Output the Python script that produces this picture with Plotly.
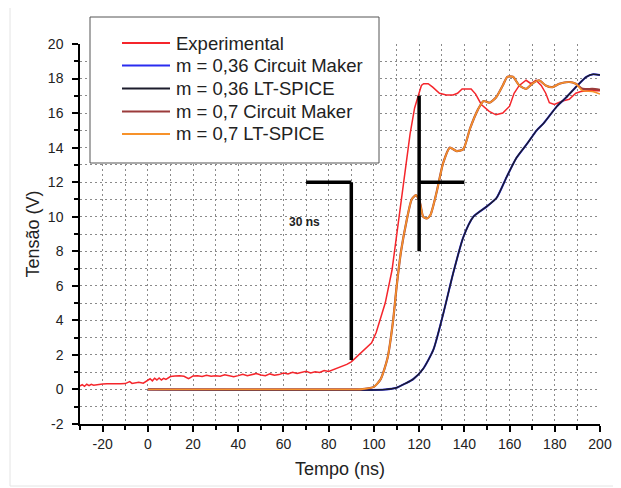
import plotly.graph_objects as go

# ---------------- data ----------------
exp_t = [-30, -29, -28, -27, -26, -25, -24, -22, -20, -18, -16, -14, -12, -10, -8, -7, -6, -4, -2,
         0, 1, 2, 3, 4, 5, 6, 7, 8, 10, 12, 14, 16, 18, 19, 20, 22, 24, 26, 28, 30, 32, 34, 36, 38,
         40, 42, 44, 46, 48, 50, 52, 54, 56, 58, 60, 62, 64, 66, 68, 70, 72, 74, 76, 78, 80, 82, 84,
         86, 88, 90, 92, 94, 96, 97, 98, 99, 101, 103, 105, 108, 110, 112, 114, 116, 118, 120, 121,
         122, 124, 126, 129, 132, 135, 137, 139, 143, 145, 147.5, 151, 154, 157, 160, 162, 164.3,
         167.3, 169.5, 171.7, 174, 176, 177.6, 179.8, 183.4, 186.4, 189.3, 191.5, 195, 200]
exp_v = [0.20, 0.28, 0.18, 0.30, 0.22, 0.30, 0.25, 0.30, 0.32, 0.33, 0.32, 0.33, 0.33, 0.34, 0.45, 0.35,
         0.36, 0.42, 0.36,
         0.55, 0.62, 0.50, 0.65, 0.55, 0.66, 0.55, 0.64, 0.58, 0.75, 0.78, 0.80, 0.76, 0.62, 0.70, 0.78,
         0.80, 0.75, 0.82, 0.76, 0.80, 0.77, 0.85, 0.78, 0.74,
         0.80, 0.88, 0.80, 0.85, 0.92, 0.84, 0.80, 0.90, 0.82, 0.86, 0.95, 0.90, 1.00, 0.92, 0.98, 1.05,
         0.96, 1.02, 0.98, 1.10, 1.04, 1.15, 1.22,
         1.35, 1.45, 1.60, 1.85, 2.05, 2.30, 2.45, 2.55, 2.70, 3.30, 4.20, 5.00, 6.90, 8.80, 10.8, 12.9,
         14.8, 16.3, 17.2, 17.6,
         17.7, 17.7, 17.5, 17.15, 17.05, 17.05, 17.15, 17.4, 17.4, 17.1, 16.5, 16.1, 15.9, 16.0, 16.4,
         17.15, 17.6,
         17.9, 17.7, 17.9, 17.6, 17.15, 16.6, 16.5, 16.7, 16.8, 17.15, 17.25, 17.3, 17.3]

m036_t = [0, 105, 110, 114, 117.4, 121.8, 126.3, 130.7, 135, 139.5, 144, 150, 154.3, 158.7, 163,
          167.6, 172, 175, 181, 185, 190, 194, 197, 200]
m036_lt_v = [0, 0.0, 0.1, 0.35, 0.6, 1.2, 2.3, 4.4, 6.7, 8.8, 10.0, 10.6, 11.1, 12.3, 13.4,
             14.2, 15.0, 15.4, 16.4, 16.9, 17.6, 18.1, 18.25, 18.2]
m036_cm_v = [0, 0.0, 0.1, 0.35, 0.6, 1.2, 2.3, 4.4, 6.7, 8.8, 10.0, 10.6, 11.1, 12.3, 13.4,
             14.2, 15.0, 15.4, 16.4, 16.9, 17.6, 18.1, 18.25, 18.2]

m07_t = [0, 92, 95, 100, 103, 106, 108.5, 110, 112, 114.5, 116.7, 118.6, 120.4, 121.8, 123.5, 125,
         127.7, 130.6, 133.6, 136.6, 139.5, 142.5, 146, 148.5, 151, 154, 157, 159, 161.5, 164.3, 167.3,
         170, 173, 176, 179, 182, 186.4, 189.3, 192.3, 196.6, 200]
m07_lt_v = [0, 0, 0.02, 0.15, 0.6, 1.8, 4.0, 5.9, 8.0, 9.8, 11.0, 11.25, 10.8, 10.0, 9.9, 10.1,
            11.4, 13.1, 14.0, 13.8, 13.9, 15.1, 16.2, 16.7, 16.6, 16.9, 17.6, 18.1, 18.1, 17.6, 17.4,
            17.7, 17.9, 17.6, 17.5, 17.7, 17.8, 17.7, 17.3, 17.25, 17.1]
m07_cm_v = [0, 0, 0.02, 0.15, 0.6, 1.8, 4.0, 5.9, 8.0, 9.8, 11.0, 11.25, 10.8, 10.0, 9.9, 10.1,
            11.4, 13.1, 14.0, 13.8, 13.9, 15.1, 16.2, 16.7, 16.6, 16.9, 17.6, 18.1, 18.1, 17.6, 17.4,
            17.7, 17.9, 17.6, 17.5, 17.7, 17.8, 17.7, 17.4, 17.4, 17.35]

series_names = ["Experimental", "m = 0,36 Circuit Maker", "m = 0,36 LT-SPICE",
                "m = 0,7 Circuit Maker", "m = 0,7 LT-SPICE"]
series_colors = ["#f5252b", "#2a2cf0", "#1c1c2c", "#9b3b3b", "#f7922a"]

# annotation marker lines (data coordinates): (x0, y0, x1, y1)
marker_lines = [(70, 12, 90, 12), (90, 12, 90, 1.7), (120, 17, 120, 8), (120, 12, 140, 12)]
marker_label = (69.5, 9.7, "30 ns")

x_ticks = list(range(-20, 201, 20))
x_tick_text = ["-20", "0", "20", "40", "60", "80", "100", "120", "140", "160", "180", "200"]
y_ticks = list(range(-2, 21, 2))
y_tick_text = ["-2", "0", "2", "4", "6", "8", "10", "12", "14", "16", "18", "20"]

# ---------------- figure ----------------
FONT = "Arial, Liberation Sans, sans-serif"
fig = go.Figure()
fig.add_trace(go.Scatter(x=exp_t, y=exp_v, name=series_names[0], mode="lines",
                         line=dict(color=series_colors[0], width=1.5)))
fig.add_trace(go.Scatter(x=m036_t, y=m036_cm_v, name=series_names[1], mode="lines",
                         line=dict(color=series_colors[1], width=2.0, shape="spline", smoothing=0.6)))
fig.add_trace(go.Scatter(x=m036_t, y=m036_lt_v, name=series_names[2], mode="lines",
                         line=dict(color=series_colors[2], width=1.5, shape="spline", smoothing=0.6)))
fig.add_trace(go.Scatter(x=m07_t, y=m07_cm_v, name=series_names[3], mode="lines",
                         line=dict(color=series_colors[3], width=2.2, shape="spline", smoothing=0.6)))
fig.add_trace(go.Scatter(x=m07_t, y=m07_lt_v, name=series_names[4], mode="lines",
                         line=dict(color=series_colors[4], width=1.6, shape="spline", smoothing=0.6)))

for (x0, y0, x1, y1) in marker_lines:
    fig.add_shape(type="line", x0=x0, y0=y0, x1=x1, y1=y1, xref="x", yref="y",
                  line=dict(color="black", width=3.5), layer="above")

fig.add_annotation(x=marker_label[0], y=marker_label[1], text="<b>" + marker_label[2] + "</b>",
                   showarrow=False, font=dict(family=FONT, size=12, color="#222"))

# ---- legend box (drawn in plot-paper coordinates; plot area is 520 x 380 px at (80,44)) ----
def px_x(X):
    return (X - 80) / 520.0


def px_y(Y):
    return (424 - Y) / 380.0


fig.add_shape(type="rect", xref="paper", yref="paper", x0=px_x(90), x1=px_x(379),
              y0=px_y(163), y1=px_y(17),
              fillcolor="white", line=dict(color="#555", width=1), layer="above")
row_y = [43, 65.5, 88.5, 111.5, 134]
for name, color, ry in zip(series_names, series_colors, row_y):
    fig.add_shape(type="line", xref="paper", yref="paper", x0=px_x(122), x1=px_x(170),
                  y0=px_y(ry), y1=px_y(ry), line=dict(color=color, width=2.2), layer="above")
    fig.add_annotation(xref="paper", yref="paper", x=px_x(174), y=px_y(ry), text=name,
                       xanchor="left", yanchor="middle", showarrow=False,
                       font=dict(family=FONT, size=18.5, color="#222"))

# faint outer frame
fig.add_shape(type="rect", xref="paper", yref="paper", x0=px_x(10), x1=px_x(619),
              y0=px_y(486), y1=px_y(3),
              fillcolor="rgba(0,0,0,0)", line=dict(color="#e4e4e4", width=1), layer="below")

grid_common = dict(showgrid=True, gridcolor="#8a8a8a", gridwidth=1, griddash="2px,3px")

# page body has an 8px margin, so the figure is 8px smaller and margins shifted
fig.update_layout(
    width=613, height=480,
    margin=dict(l=72, r=21, t=36, b=64),
    paper_bgcolor="white", plot_bgcolor="white",
    font=dict(family=FONT, color="#222"),
    showlegend=False,
    xaxis=dict(range=[-30, 200], tickmode="array", tickvals=x_ticks, ticktext=x_tick_text,
               ticks="outside", ticklen=6, tickwidth=1.5, tickcolor="black",
               showline=True, linecolor="black", linewidth=1.5, zeroline=False, automargin=False,
               tickfont=dict(family=FONT, size=14, color="#222"),
               title=dict(text="Tempo (ns)", font=dict(family=FONT, size=18, color="#222"), standoff=12),
               minor=dict(dtick=10, tick0=0, ticks="outside", ticklen=4, tickcolor="black",
                          **grid_common),
               **grid_common),
    yaxis=dict(range=[-2, 20], tickmode="array", tickvals=y_ticks, ticktext=y_tick_text,
               ticks="outside", ticklen=6, tickwidth=1.5, tickcolor="black",
               showline=True, linecolor="black", linewidth=1.5, zeroline=False, automargin=False,
               tickfont=dict(family=FONT, size=14, color="#222"),
               ticklabelstandoff=6,
               title=dict(text="Tensão (V)", font=dict(family=FONT, size=18, color="#222"), standoff=4),
               minor=dict(dtick=1, tick0=0, ticks="outside", ticklen=4, tickcolor="black",
                          **grid_common),
               **grid_common),
)

fig.write_html("out.html")
